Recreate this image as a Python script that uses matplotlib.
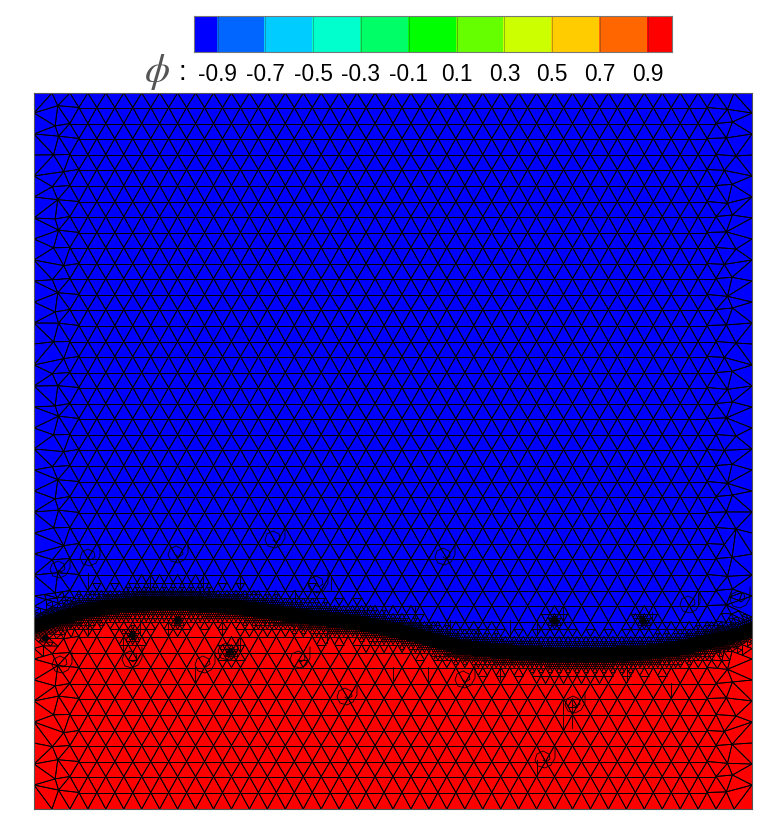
import numpy as np
import matplotlib
matplotlib.use("Agg")
import matplotlib.pyplot as plt
import matplotlib.tri as mtri
from matplotlib.collections import LineCollection

plt.rcParams['font.family'] = ['Liberation Sans', 'DejaVu Sans']
plt.rcParams['mathtext.fontset'] = 'stix'

# contour levels, as in the legend
level_edges = [-1.0, -0.9, -0.7, -0.5, -0.3, -0.1, 0.1, 0.3, 0.5, 0.7, 0.9, 1.0]
level_labels = [-0.9, -0.7, -0.5, -0.3, -0.1, 0.1, 0.3, 0.5, 0.7, 0.9]
level_colors = ['#0000ff', '#0066ff', '#00ccff', '#00ffcc', '#00ff66', '#00ff00',
                '#66ff00', '#ccff00', '#ffcc00', '#ff6600', '#ff0000']

# domain is given in the units of the reference picture
dom_x = [34, 752]
dom_y = [809, 93]

# the phi = 0 interface
interface_x = [34, 60, 87, 120, 150, 187, 230, 260, 300, 360, 400, 420, 460,
               500, 520, 560, 600, 640, 680, 700, 730, 752]
interface_y = [626, 618, 610, 605, 603, 603, 606, 610, 616, 623, 631, 636, 647,
               651, 653, 655, 655, 653, 648, 643, 637, 630]

# spots with strong local refinement
dark_x = [132, 178, 554, 643, 45, 230]
dark_y = [635, 620, 620, 620, 638, 652]

# curls in the mesh
curl_x = [60, 90, 178, 275, 445, 318, 228, 205, 132, 62, 347, 465, 575, 545, 690, 740, 300]
curl_y = [570, 558, 555, 540, 557, 585, 652, 665, 660, 665, 697, 680, 705, 760, 605, 600, 660]

# short vertical mesh lines left by the refinement
stub_x = [295, 331, 367, 415, 450, 478, 510, 327, 393, 428, 500, 88, 150, 203, 240, 88, 140,
          168, 222, 240, 123, 195, 537, 627, 563, 572, 537, 671, 652, 563, 698]
stub_y0 = [590, 575, 607, 607, 620, 627, 620, 633, 667, 667, 667, 573, 573, 573, 575, 620, 620,
           620, 620, 635, 637, 667, 620, 667, 698, 700, 760, 683, 612, 605, 593]
stub_y1 = [603, 590, 620, 617, 635, 637, 637, 643, 680, 682, 680, 588, 590, 590, 590, 635, 635,
           635, 635, 652, 652, 682, 635, 682, 730, 728, 777, 698, 620, 620, 605]

wobble = [2.5, -3, 1.5, 4, -2, -4, 3, 0.5, -2.5, 3.5, -1, 2]
curl_dx = [10, 10, 6, 0, -7, -10, -8, -2, 4, 5, 1, -2]
curl_dy = [-13, -2, 5, 8, 6, 0, -6, -9, -6, -1, 2, 0]


def lattice():
    dx = 17.95
    dy = 15.56
    xs, ys = [], []
    n = 0
    for r in range(45):
        y = np.floor(792.3 - r * dy) + 0.5
        start = dom_x[0] + (9 if r % 2 == 0 else 0)
        for j in range(41):
            x = start + j * dx
            if x < dom_x[0] + 13 or x > dom_x[1] - 13:
                continue
            # the mesh goes irregular close to the side walls
            side = min(x - dom_x[0], dom_x[1] - x)
            if side < 32:
                n += 1
                x += wobble[n % len(wobble)] * 0.8
                y2 = y + wobble[(n * 5) % len(wobble)] * 0.6
            else:
                y2 = y
            xs.append(x)
            ys.append(y2)
    for x in np.arange(dom_x[0], dom_x[1] + 0.1, 17.95):
        xs += [x, x]
        ys += [dom_y[0], dom_y[1]]
    for y in np.arange(dom_y[1] + 20, dom_y[0] - 8, 21):
        xs += [dom_x[0], dom_x[1]]
        ys += [y, y]
    return np.array(xs), np.array(ys)


def wanted_level(cx, cy):
    d = abs(cy - np.interp(cx, interface_x, interface_y))
    lev = 0
    if d < 24:
        lev = 1
    if d < 17:
        lev = 2
    if d < 12:
        lev = 3
    if d < 7:
        lev = 4
    for sx, sy in zip(dark_x, dark_y):
        r = np.hypot(cx - sx, cy - sy)
        if r < 3:
            lev = max(lev, 4)
        elif r < 5:
            lev = max(lev, 3)
        elif r < 9:
            lev = max(lev, 2)
        elif r < 15:
            lev = max(lev, 1)
    for sx, sy in zip(curl_x, curl_y):
        r = np.hypot(cx - sx, cy - sy)
        if r < 6:
            lev = max(lev, 1)
    return lev


def split(a, b, c, lev, out):
    cx = (a[0] + b[0] + c[0]) / 3
    cy = (a[1] + b[1] + c[1]) / 3
    if lev >= wanted_level(cx, cy):
        out[lev].extend([(a, b), (b, c), (c, a)])
        return
    ab = ((a[0] + b[0]) / 2, (a[1] + b[1]) / 2)
    bc = ((b[0] + c[0]) / 2, (b[1] + c[1]) / 2)
    ca = ((c[0] + a[0]) / 2, (c[1] + a[1]) / 2)
    split(a, ab, ca, lev + 1, out)
    split(ab, b, bc, lev + 1, out)
    split(ca, bc, c, lev + 1, out)
    split(ab, bc, ca, lev + 1, out)


fig = plt.figure(figsize=(7.8, 8.39), dpi=100)
W, H = 780.0, 839.0

ax = fig.add_axes([34 / W, 1 - 809 / H, 718 / W, 716 / H])
ax.set_xlim(dom_x)
ax.set_ylim(dom_y)
ax.set_xticks([])
ax.set_yticks([])
ax.set_facecolor(level_colors[0])
for s in ax.spines.values():
    s.set_color('#555555')
    s.set_linewidth(0.8)

ax.fill_between(interface_x, interface_y, dom_y[0], color=level_colors[-1], lw=0)

mx, my = lattice()
tri = mtri.Triangulation(mx, my)
segs = {0: [], 1: [], 2: [], 3: [], 4: []}
for t in tri.triangles:
    pts = [(mx[i], my[i]) for i in t]
    split(pts[0], pts[1], pts[2], 0, segs)
# finer cells get thinner lines so they speckle instead of going solid
for lev, w in zip([0, 1, 2, 3, 4], [0.62, 0.55, 0.45, 0.38, 0.6]):
    ax.add_collection(LineCollection(segs[lev], colors='black', linewidths=w))

for x, y0, y1 in zip(stub_x, stub_y0, stub_y1):
    ax.plot([x, x], [y0, y1], color='black', lw=0.6)
for x, y in zip(curl_x, curl_y):
    ax.plot(x + np.array(curl_dx), y + np.array(curl_dy), color='black', lw=0.6)

# legend bar
cax = fig.add_axes([193.6 / W, 1 - 51.7 / H, 478.2 / W, 35.7 / H])
cax.pcolormesh(level_edges, [0, 1], [list(range(11))],
               cmap=matplotlib.colors.ListedColormap(level_colors), vmin=-0.5, vmax=10.5,
               edgecolors='face')
for e in level_edges[1:-1]:
    cax.axvline(e, color='#333333', lw=0.5, alpha=0.5)
cax.set_xlim(-1, 1)
cax.set_yticks([])
cax.set_xticks(level_labels)
cax.set_xticklabels([f'{v:.1f}' for v in level_labels], fontsize=16.3)
cax.tick_params(axis='x', length=0, pad=8)
for s in cax.spines.values():
    s.set_color('#777777')
    s.set_linewidth(0.8)

fig.text(157 / W, 1 - 72 / H, r'$\phi$', fontsize=29, ha='center', va='center', color='#555555')
fig.text(182 / W, 1 - 73 / H, ':', fontsize=20, ha='center', va='center')

fig.savefig('out.png', dpi=100)
